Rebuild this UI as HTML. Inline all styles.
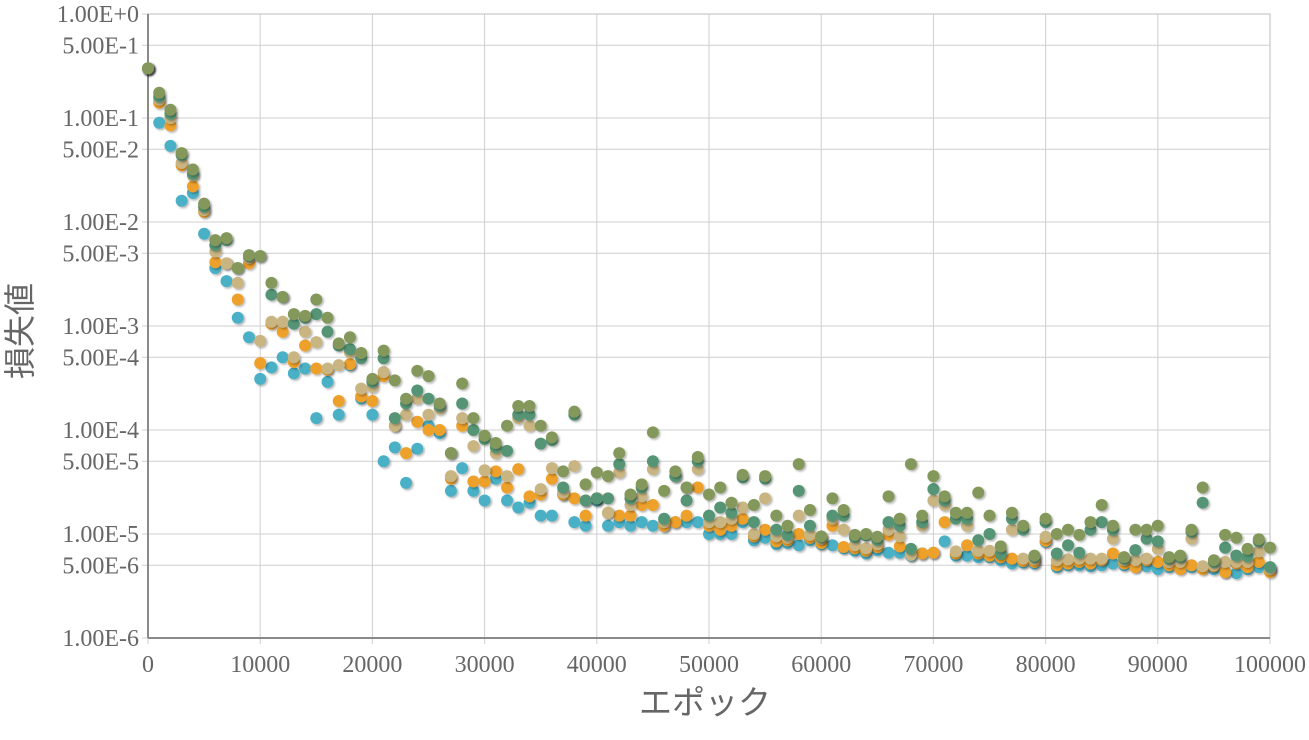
<!DOCTYPE html>
<html><head><meta charset="utf-8"><style>
html,body{margin:0;padding:0;background:#fff;}
svg text{font-family:"Liberation Serif","Noto Serif CJK SC","Noto Sans CJK JP",serif;fill:#666;}
</style></head><body>
<svg id="chart" width="1309" height="735" xmlns="http://www.w3.org/2000/svg">
<defs><filter id="sh" x="-50%" y="-50%" width="200%" height="200%"><feDropShadow dx="1.5" dy="1.5" stdDeviation="1" flood-color="#000" flood-opacity="0.3"/></filter></defs>
<g id="grid"></g>
<g id="axes"></g>
<g id="marks"></g>
<text x="705" y="714" text-anchor="middle" font-size="33" style='font-family:"Liberation Sans","Noto Sans CJK JP",sans-serif'>エポック</text>
<text transform="translate(31,331) rotate(-90)" text-anchor="middle" font-size="32" style='font-family:"Liberation Sans","Noto Sans CJK JP",sans-serif'>損失値</text>
</svg>
<script>
const yTickValues=[1,0.5,0.1,0.05,0.01,0.005,0.001,0.0005,0.0001,0.00005,0.00001,0.000005,0.000001];
const yTickLabels=["1.00E+0","5.00E-1","1.00E-1","5.00E-2","1.00E-2","5.00E-3","1.00E-3","5.00E-4","1.00E-4","5.00E-5","1.00E-5","5.00E-6","1.00E-6"];
const xTickValues=[0,10000,20000,30000,40000,50000,60000,70000,80000,90000,100000];
const xTickLabels=["0","10000","20000","30000","40000","50000","60000","70000","80000","90000","100000"];
const seriesNames=["series-1","series-2","series-3","series-4","series-5"];
const seriesColors=["#4ab0c6","#eda02a","#c9b582","#559474","#83985a"];
const s1=[0.3,0.09,0.054,0.016,0.019,0.0077,0.0036,0.0027,0.0012,0.00078,0.00031,0.0004,0.0005,0.00035,0.00039,0.00013,0.00029,0.00014,0.00042,0.0002,0.00014,0.00005,0.000068,0.000031,0.000066,0.00011,0.000093,0.000026,0.000043,0.000026,0.000021,0.000034,0.000021,0.000018,0.00002,0.000015,0.000015,0.000024,0.000013,0.000012,0.000021,0.000012,0.000013,0.000012,0.000013,0.000012,0.000012,0.000013,0.000013,0.000013,0.00001,0.00001,0.00001,0.000013,0.0000087,0.0000092,0.000008,0.0000082,0.0000078,0.0000087,0.000008,0.0000078,0.0000073,0.0000069,0.0000065,0.000007,0.0000066,0.0000066,0.0000062,0.0000065,0.0000066,0.0000085,0.0000062,0.0000062,0.000006,0.000006,0.0000056,0.0000052,0.0000053,0.0000052,0.0000084,0.0000048,0.000005,0.000005,0.0000049,0.000005,0.0000052,0.000005,0.0000049,0.0000049,0.0000046,0.0000048,0.0000048,0.0000048,0.0000048,0.0000046,0.0000043,0.0000042,0.0000046,0.0000048,0.0000046];
const s2=[0.3,0.14,0.085,0.035,0.022,0.0125,0.0041,0.004,0.0018,0.004,0.00044,0.00105,0.00088,0.00045,0.00065,0.00039,0.00038,0.00019,0.00043,0.00021,0.00019,0.00033,0.00011,0.00006,0.00012,0.0001,0.0001,0.000034,0.00011,0.000032,0.000032,0.00004,0.000028,0.000042,0.000023,0.000024,0.000034,0.000024,0.000022,0.000015,0.000022,0.000016,0.000015,0.000015,0.000019,0.000019,0.000012,0.000013,0.000015,0.000028,0.000012,0.000011,0.000012,0.000014,0.0000095,0.000011,0.0000085,0.0000087,0.00001,0.0000092,0.0000082,0.000012,0.0000075,0.0000073,0.0000069,0.0000075,0.0000098,0.0000076,0.0000066,0.0000065,0.0000066,0.000013,0.0000065,0.0000078,0.0000065,0.0000062,0.000006,0.0000058,0.0000055,0.0000054,0.0000086,0.000005,0.0000052,0.0000054,0.0000052,0.0000056,0.0000065,0.0000052,0.0000048,0.0000056,0.0000054,0.000005,0.0000046,0.000005,0.0000046,0.0000049,0.0000043,0.0000052,0.0000048,0.0000054,0.0000043];
const s3=[0.3,0.15,0.1,0.037,0.028,0.013,0.0052,0.004,0.0026,0.0045,0.00072,0.0011,0.0011,0.0005,0.00088,0.0007,0.00039,0.00042,0.00056,0.00025,0.00026,0.00036,0.00011,0.00014,0.0002,0.00014,0.00016,0.000036,0.00013,0.00007,0.000041,0.00006,0.000036,0.00013,0.00011,0.000027,0.000043,0.000025,0.000045,0.000021,0.000022,0.000016,0.000039,0.000019,0.000023,0.000042,0.000013,0.000036,0.000028,0.000042,0.000013,0.000013,0.000014,0.000018,0.00001,0.000022,0.0000095,0.0000092,0.000015,0.0000098,0.000009,0.000014,0.000011,0.0000078,0.0000073,0.000008,0.000011,0.0000095,0.0000063,0.000012,0.000021,0.000019,0.0000068,0.000012,0.0000069,0.0000069,0.0000068,0.000011,0.0000058,0.0000057,0.0000094,0.0000056,0.0000057,0.0000058,0.0000058,0.0000058,0.000009,0.0000056,0.0000056,0.0000058,0.0000072,0.0000054,0.0000054,0.000009,0.0000049,0.000005,0.0000054,0.0000054,0.0000054,0.0000068,0.0000046];
const s4=[0.3,0.16,0.11,0.044,0.029,0.014,0.006,0.0067,0.0036,0.0047,0.0047,0.002,0.0019,0.00105,0.0012,0.0013,0.00088,0.00065,0.0006,0.00049,0.00029,0.00049,0.00013,0.00018,0.00024,0.0002,0.00017,0.00006,0.00018,0.0001,0.000082,0.000068,0.000063,0.00014,0.00014,0.000074,0.00008,0.000028,0.00014,0.000021,0.000022,0.000022,0.000047,0.000022,0.000028,0.00005,0.000014,0.000036,0.000021,0.00005,0.000015,0.000018,0.000016,0.000035,0.000013,0.000034,0.000011,0.0000098,0.000026,0.000012,0.0000093,0.000015,0.000015,0.0000093,0.0000097,0.0000088,0.000013,0.000012,0.0000072,0.000013,0.000027,0.000021,0.000014,0.000014,0.0000087,0.00001,0.0000064,0.000014,0.000011,0.000006,0.000013,0.0000065,0.0000078,0.0000066,0.000011,0.000013,0.000011,0.0000058,0.000007,0.000009,0.0000085,0.0000058,0.000006,0.0000105,0.00002,0.0000054,0.0000074,0.0000062,0.0000061,0.0000085,0.0000048];
const s5=[0.3,0.175,0.12,0.046,0.032,0.015,0.0067,0.007,0.0036,0.0048,0.0047,0.0026,0.0019,0.0013,0.00125,0.0018,0.0012,0.00068,0.00078,0.00055,0.00031,0.00058,0.0003,0.0002,0.00037,0.00033,0.00018,0.00006,0.00028,0.00013,0.000088,0.000075,0.00011,0.00017,0.00017,0.00011,0.000085,0.00004,0.00015,0.00003,0.000039,0.000036,0.00006,0.000024,0.00003,0.000095,0.000026,0.00004,0.000028,0.000055,0.000024,0.000028,0.00002,0.000037,0.000019,0.000036,0.000015,0.000012,0.000047,0.000017,0.0000095,0.000022,0.000017,0.0000098,0.00001,0.0000094,0.000023,0.000014,0.000047,0.000015,0.000036,0.000023,0.000016,0.000016,0.000025,0.000015,0.0000076,0.000016,0.000012,0.0000062,0.000014,0.00001,0.000011,0.0000098,0.000013,0.000019,0.000012,0.000006,0.000011,0.000011,0.000012,0.000006,0.0000062,0.000011,0.000028,0.0000056,0.0000098,0.0000092,0.0000072,0.0000089,0.0000074];
const seriesValues=[s1,s2,s3,s4,s5];
const epochStep=1000;

const X0=148,X1=1270,Y0=14,Y1=638,XMAX=100000,LMAX=0,LMIN=-6;
const NS="http://www.w3.org/2000/svg";
function xs(v){return X0+(v/XMAX)*(X1-X0);}
function ys(v){return Y0+(LMAX-Math.log10(v))/(LMAX-LMIN)*(Y1-Y0);}
function mk(tag,attrs,parent){const e=document.createElementNS(NS,tag);for(const k in attrs)e.setAttribute(k,attrs[k]);parent.appendChild(e);return e;}
const grid=document.getElementById('grid'),axes=document.getElementById('axes'),marks=document.getElementById('marks');
yTickValues.forEach((v,i)=>{
  const y=ys(v);
  const l=mk('line',{x1:X0-6,x2:X1,y1:y,y2:y,stroke:'#cfcfcf','stroke-width':1},grid);
  
  
  const t=mk('text',{x:139,y:y+8,'text-anchor':'end','font-size':24},axes);
  t.textContent=yTickLabels[i];
  
  
});
xTickValues.forEach((v,i)=>{
  const x=xs(v);
  const l=mk('line',{x1:x,x2:x,y1:Y0,y2:Y1+6,stroke:'#cfcfcf','stroke-width':1},grid);
  
  
  const t=mk('text',{x:x,y:672,'text-anchor':'middle','font-size':24},axes);
  t.textContent=xTickLabels[i];
  
  
});
const fr=mk('rect',{x:X0,y:Y0,width:X1-X0,height:Y1-Y0,fill:'none',stroke:'#bdbdbd','stroke-width':1},axes);


const ya=mk('line',{x1:X0,x2:X0,y1:Y0,y2:Y1,stroke:'#8a8a8a','stroke-width':2},axes);


const xa=mk('line',{x1:X0,x2:X1,y1:Y1,y2:Y1,stroke:'#8a8a8a','stroke-width':2},axes);


seriesValues.forEach((arr,si)=>{
  const g=mk('g',{filter:'url(#sh)'},marks);
  
  
  arr.forEach((v,i)=>{
    const c=mk('circle',{cx:xs(i*epochStep),cy:ys(v),r:6,fill:seriesColors[si]},g);
    
    
  });
});
</script>
</body></html>
